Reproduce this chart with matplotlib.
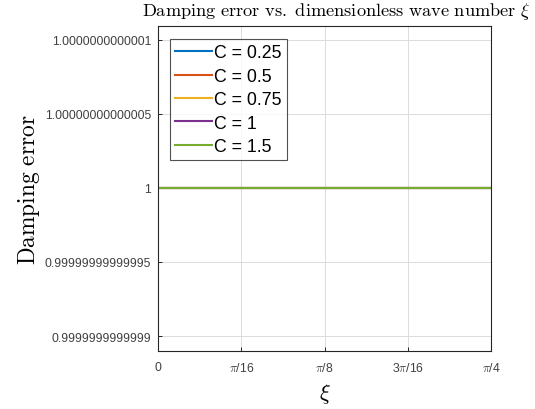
import numpy as np
import matplotlib.pyplot as plt

# ---- data ----
xi = [0, np.pi / 16, np.pi / 8, 3 * np.pi / 16, np.pi / 4]
c_labels = ["C = 0.25", "C = 0.5", "C = 0.75", "C = 1", "C = 1.5"]
damp_025 = [1.0, 1.0, 1.0, 1.0, 1.0]
damp_05 = [1.0, 1.0, 1.0, 1.0, 1.0]
damp_075 = [1.0, 1.0, 1.0, 1.0, 1.0]
damp_1 = [1.0, 1.0, 1.0, 1.0, 1.0]
damp_15 = [1.0, 1.0, 1.0, 1.0, 1.0]
series = [damp_025, damp_05, damp_075, damp_1, damp_15]

xticks = [0, np.pi / 16, np.pi / 8, 3 * np.pi / 16, np.pi / 4]
xtick_labels = ["0", r"$\pi$/16", r"$\pi$/8", r"3$\pi$/16", r"$\pi$/4"]
yticks = [1 - 1e-13, 1 - 5e-14, 1.0, 1 + 5e-14, 1 + 1e-13]
ytick_labels = ["0.9999999999999", "0.99999999999995", "1",
                "1.00000000000005", "1.0000000000001"]

colors = ["#0072BD", "#D95319", "#EDB120", "#7E2F8E", "#77AC30"]

plt.rcParams["mathtext.fontset"] = "cm"
plt.rcParams["font.family"] = ["Liberation Sans", "DejaVu Sans"]

fig = plt.figure(figsize=(5.35, 4.10), dpi=100)
ax = fig.add_axes([158 / 535, 1 - 352 / 410, (491 - 158) / 535, (352 - 27) / 410])

for y, c, lab in zip(series, colors, c_labels):
    ax.plot(xi, y, color=c, lw=1.5, label=lab)

ax.set_xlim(0, np.pi / 4)
ax.set_ylim(1 - 1.1e-13, 1 + 1.09e-13)
ax.set_xticks(xticks)
ax.set_xticklabels(xtick_labels)
ax.set_yticks(yticks)
ax.set_yticklabels(ytick_labels)
ax.tick_params(direction="in", length=3, labelsize=8.8, colors="#262626",
               labelcolor="#404040", width=0.7)
ax.tick_params(axis="x", pad=7)
ax.tick_params(axis="y", pad=5)
ax.grid(True, color="#dcdcdc", lw=0.7)
for s in ax.spines.values():
    s.set_color("#262626")
    s.set_linewidth(0.8)

ax.set_xlabel(r"$\xi$", fontsize=16, labelpad=5)
ax.set_ylabel(r"$\mathrm{Damping\ error}$", fontsize=16.8, labelpad=2)
fig.text(336 / 535, 1 - 12 / 410,
         r"$\mathrm{Damping\ error\ vs.\ dimensionless\ wave\ number}\ \xi$",
         ha="center", va="center", fontsize=13.2)

leg = ax.legend(loc="upper left", bbox_to_anchor=(12 / 333, 1 - 13 / 325),
                fontsize=12.8, frameon=True, fancybox=False, borderaxespad=0,
                handlelength=2.05, handletextpad=0.12, labelspacing=0.36,
                borderpad=0.3)
leg.get_frame().set_edgecolor("#262626")
leg.get_frame().set_linewidth(0.8)

fig.savefig("out.png", dpi=100)
